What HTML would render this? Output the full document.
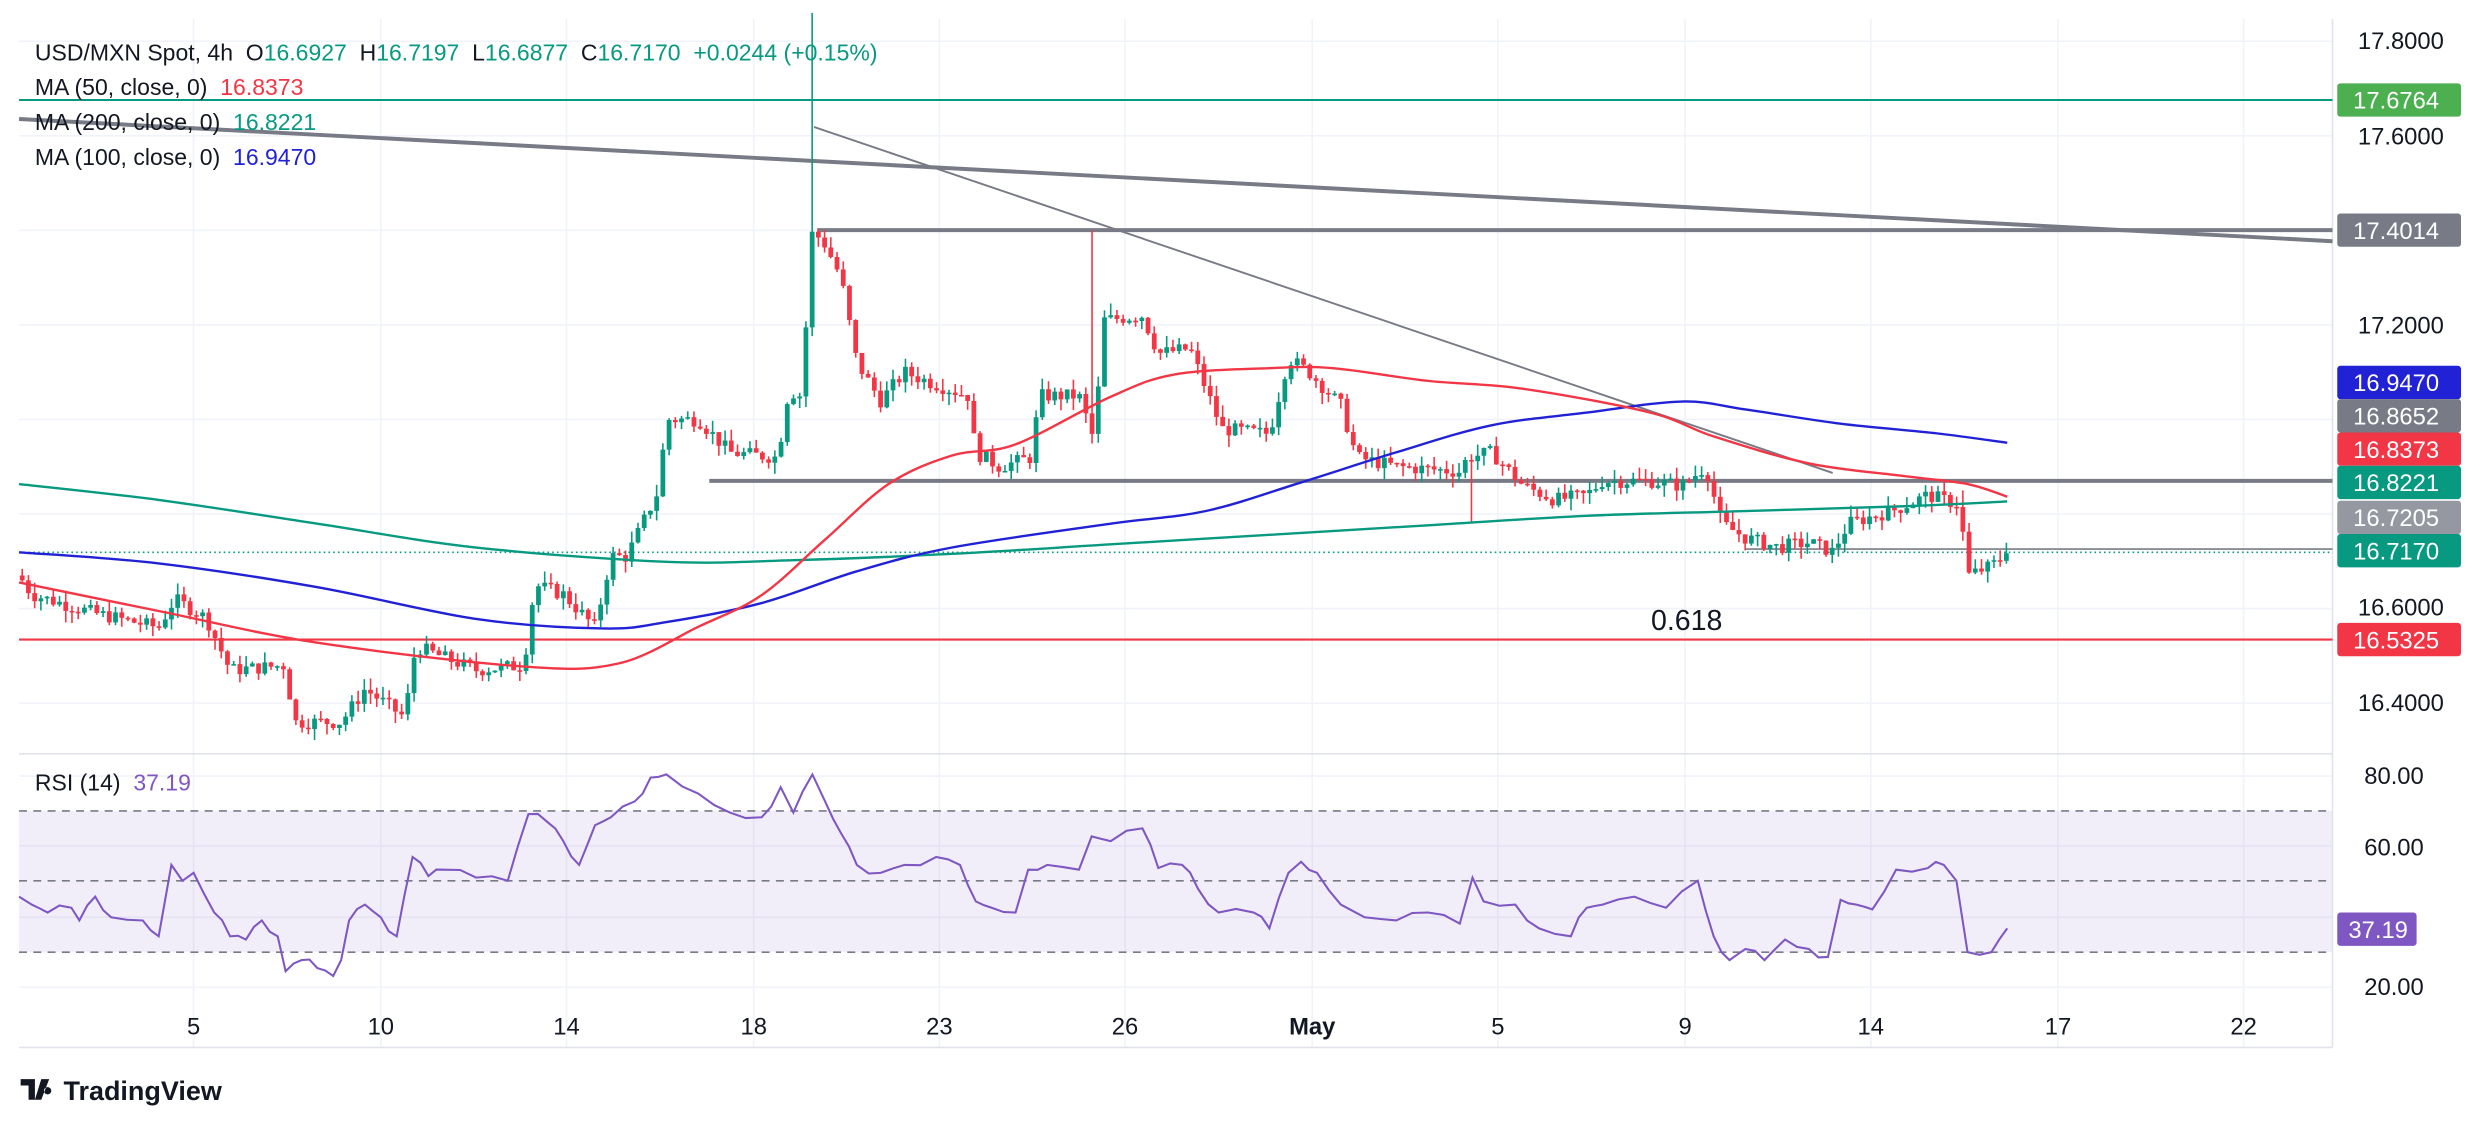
<!DOCTYPE html>
<html><head><meta charset="utf-8"><style>
html,body{margin:0;padding:0;background:#fff;}
svg{display:block;font-family:"Liberation Sans",sans-serif;}
</style></head><body>
<svg id="s" width="2488" height="1122" viewBox="0 0 1568 707" preserveAspectRatio="none" xmlns="http://www.w3.org/2000/svg">
<rect width="1568" height="707" fill="#fff"/>
<g id="grid" stroke="#f0f3fa" stroke-width="1"></g>
<rect x="12" y="511" width="1458" height="89" fill="#7e57c2" fill-opacity="0.1"/>
<g stroke="#787b86" stroke-dasharray="5,4" stroke-width="1">
<line x1="12" y1="511" x2="1470" y2="511"/><line x1="12" y1="555" x2="1470" y2="555"/><line x1="12" y1="600" x2="1470" y2="600"/></g>
<line x1="12" y1="475" x2="1470" y2="475" stroke="#e0e3eb"/>
<line x1="12" y1="660" x2="1470" y2="660" stroke="#e0e3eb"/>
<line x1="1470" y1="12" x2="1470" y2="660" stroke="#e0e3eb"/>
<line x1="12" y1="63" x2="1470" y2="63" stroke="#089981" stroke-width="1.3"/>
<line x1="12" y1="403" x2="1470" y2="403" stroke="#f23645" stroke-width="1.3"/>
<line x1="12" y1="348" x2="1470" y2="348" stroke="#089981" stroke-dasharray="1,2"/>
<line x1="1100" y1="346" x2="1470" y2="346" stroke="#787b86"/>
<line x1="12" y1="75" x2="1470" y2="152" stroke="#787b86" stroke-width="2.5"/>
<line x1="515" y1="145" x2="1470" y2="145" stroke="#787b86" stroke-width="2.5"/>
<line x1="447" y1="303" x2="1470" y2="303" stroke="#787b86" stroke-width="2.5"/>
<line x1="513" y1="80" x2="1155" y2="298" stroke="#787b86" stroke-width="1.2"/>
<g id="candles"></g>
<g id="mas" fill="none" stroke-width="1.5"></g>
<path id="rsi" fill="none" stroke="#7e57c2" stroke-width="1.3"/>
<text x="1063" y="397" font-size="18" fill="#131722" text-anchor="middle">0.618</text>
<text x="22" y="38" font-size="14.5" fill="#131722" xml:space="preserve">USD/MXN Spot, 4h  O<tspan fill="#089981">16.6927</tspan>  H<tspan fill="#089981">16.7197</tspan>  L<tspan fill="#089981">16.6877</tspan>  C<tspan fill="#089981">16.7170</tspan>  <tspan fill="#089981">+0.0244 (+0.15%)</tspan></text>
<text x="22" y="60" font-size="14.5" fill="#131722" xml:space="preserve">MA (50, close, 0)  <tspan fill="#f23645">16.8373</tspan></text>
<text x="22" y="82" font-size="14.5" fill="#131722" xml:space="preserve">MA (200, close, 0)  <tspan fill="#089981">16.8221</tspan></text>
<text x="22" y="104" font-size="14.5" fill="#131722" xml:space="preserve">MA (100, close, 0)  <tspan fill="#2121d6">16.9470</tspan></text>
<text x="22" y="498" font-size="14.5" fill="#131722" xml:space="preserve">RSI (14)  <tspan fill="#7e57c2">37.19</tspan></text>
<g font-size="15" fill="#131722">
<text x="1486" y="31">17.8000</text><text x="1486" y="91">17.6000</text><text x="1486" y="210">17.2000</text>
<text x="1486" y="388">16.6000</text><text x="1486" y="448">16.4000</text>
<text x="1490" y="494">80.00</text><text x="1490" y="539">60.00</text><text x="1490" y="627">20.00</text>
</g>
<g id="labels" font-size="15" fill="#fff"></g>
<g font-size="15" fill="#131722" text-anchor="middle">
<text x="122" y="652">5</text><text x="240" y="652">10</text><text x="357" y="652">14</text><text x="475" y="652">18</text>
<text x="592" y="652">23</text><text x="709" y="652">26</text><text x="827" y="652" font-weight="bold">May</text><text x="944" y="652">5</text>
<text x="1062" y="652">9</text><text x="1179" y="652">14</text><text x="1297" y="652">17</text><text x="1414" y="652">22</text>
</g>
<path d="M13 680h9v13h-4v-9h-5z M26 680l5 0 -5 13h-4z M30 685a2.3 2.3 0 1 0 0.01 0z" fill="#131722"/>
<text x="40" y="693" font-size="17" font-weight="bold" fill="#131722">TradingView</text>
</svg>
<script>
const NS="http://www.w3.org/2000/svg";
function el(p,t,a){const e=document.createElementNS(NS,t);for(const k in a)e.setAttribute(k,a[k]);p.appendChild(e);return e;}
const Y=p=>26+(17.8-p)*297.9;
const g=document.getElementById('grid');
[122,240,357,475,592,709,827,944,1062,1179,1297,1414].forEach(x=>el(g,'line',{x1:x,y1:12,x2:x,y2:660}));
[17.8,17.6,17.4,17.2,17.0,16.8,16.6,16.4].forEach(p=>el(g,'line',{x1:12,y1:Y(p),x2:1470,y2:Y(p)}));
[489,533,578,622].forEach(y=>el(g,'line',{x1:12,y1:y,x2:1470,y2:y}));
const kp=[[12,16.67],[20,16.63],[60,16.59],[100,16.56],[110,16.62],[130,16.58],[145,16.47],[180,16.48],[185,16.36],[215,16.36],[230,16.43],[255,16.37],[262,16.52],[300,16.47],[330,16.48],[337,16.65],[355,16.63],[375,16.56],[385,16.71],[395,16.71],[415,16.85],[420,17.0],[440,17.0],[460,16.93],[490,16.92],[497,17.06],[505,17.05],[512,17.40],[520,17.37],[530,17.30],[540,17.12],[555,17.04],[570,17.10],[585,17.08],[610,17.05],[615,16.93],[630,16.90],[650,16.92],[655,17.05],[680,17.05],[690,16.95],[695,17.21],[720,17.22],[730,17.14],[750,17.15],[770,16.98],[800,16.97],[812,17.13],[825,17.10],[845,17.03],[855,16.92],[880,16.90],[920,16.89],[925,16.92],[940,16.93],[960,16.86],[980,16.83],[1000,16.84],[1010,16.87],[1040,16.87],[1060,16.86],[1075,16.90],[1085,16.78],[1100,16.75],[1120,16.73],[1140,16.74],[1155,16.72],[1165,16.78],[1195,16.81],[1215,16.84],[1235,16.82],[1240,16.67],[1255,16.69],[1265,16.717]];
function interp(x){for(let i=1;i<kp.length;i++){if(x<=kp[i][0]){const a=kp[i-1],b=kp[i];return a[1]+(b[1]-a[1])*(x-a[0])/(b[0]-a[0]);}}return kp[kp.length-1][1];}
let seed=7;const rnd=()=>{seed=(seed*9301+49297)%233280;return seed/233280;};
const cg=document.getElementById('candles');
let prev=interp(12);
for(let x=14;x<=1266;x+=3.92){
 let c=interp(x)+(rnd()-0.5)*0.03; if(x>1262)c=16.717;
 let o=prev; let hi=Math.max(o,c)+rnd()*0.025, lo=Math.min(o,c)-rnd()*0.025;
 if(Math.abs(x-513)<2){hi=17.86;}
 if(Math.abs(x-689)<2){hi=17.40;}
 if(Math.abs(x-926)<2){lo=16.78;}
 if(Math.abs(x-1238)<2){hi=16.85;}
 const col=c>=o?'#089981':'#f23645';
 el(cg,'line',{x1:x,y1:Y(hi),x2:x,y2:Y(lo),stroke:col,'stroke-width':1});
 const t=Y(Math.max(o,c)),b=Y(Math.min(o,c));
 el(cg,'rect',{x:x-1.5,y:t,width:3,height:Math.max(1,b-t),fill:col});
 prev=c;
}
function smooth(p){let d='M'+p[0].join(',');for(let i=0;i<p.length-1;i++){const p0=p[i-1]||p[i],p1=p[i],p2=p[i+1],p3=p[i+2]||p2;
 d+=` C${p1[0]+(p2[0]-p0[0])/6},${p1[1]+(p2[1]-p0[1])/6} ${p2[0]-(p3[0]-p1[0])/6},${p2[1]-(p3[1]-p1[1])/6} ${p2[0]},${p2[1]}`;}return d;}
const m=document.getElementById('mas');
const red=[[12,367],[100,385],[200,405],[330,420],[390,418],[440,395],[480,375],[520,340],[560,305],[600,287],[640,280],[700,250],[740,236],[800,232],[840,232],[900,240],[960,245],[1040,260],[1080,275],[1140,292],[1200,300],[1240,305],[1265,313]];
const blue=[[12,348],[100,355],[200,370],[300,390],[380,396],[420,392],[480,380],[540,360],[600,345],[700,330],[760,322],[820,304],[880,285],[940,268],[1000,260],[1060,253],[1100,258],[1160,267],[1220,273],[1265,279]];
const grn=[[12,305],[100,315],[200,330],[300,345],[420,354],[500,353],[600,349],[700,343],[800,337],[900,331],[1000,325],[1100,322],[1200,319],[1265,316]];
[[grn,'#089981'],[blue,'#2121d6'],[red,'#f23645']].forEach(([p,c])=>el(m,'path',{d:smooth(p),stroke:c}));
const r=[[12,565],[20,570],[30,575],[45,572],[50,580],[60,565],[70,578],[90,580],[100,590],[108,545],[115,555],[122,550],[135,575],[145,590],[155,592],[165,580],[175,590],[180,612],[190,605],[200,610],[210,615],[215,605],[220,580],[230,570],[240,578],[250,590],[260,540],[270,552],[280,548],[300,553],[320,555],[333,513],[345,518],[355,530],[365,545],[375,520],[385,515],[400,505],[410,490],[420,488],[440,500],[460,512],[480,515],[492,496],[500,512],[512,488],[520,505],[530,525],[540,545],[555,550],[570,545],[590,540],[605,545],[615,568],[625,572],[640,575],[648,548],[660,545],[680,548],[688,527],[700,530],[720,522],[730,547],[745,545],[755,560],[768,575],[790,575],[800,585],[812,550],[820,543],[830,550],[845,570],[860,578],[880,580],[900,575],[920,582],[928,553],[935,568],[955,570],[970,585],[990,590],[1000,572],[1010,570],[1030,565],[1050,572],[1070,555],[1080,590],[1090,605],[1100,598],[1112,605],[1125,592],[1140,598],[1152,603],[1160,567],[1170,570],[1180,573],[1195,548],[1215,547],[1225,545],[1233,555],[1240,600],[1255,600],[1265,585]];
// add jitter points for texture
let rp=[];for(let i=0;i<r.length-1;i++){rp.push(r[i]);const a=r[i],b=r[i+1];if(b[0]-a[0]>8){const mx=(a[0]+b[0])/2;rp.push([mx,(a[1]+b[1])/2+(rnd()-0.5)*6]);}}rp.push(r[r.length-1]);
document.getElementById('rsi').setAttribute('d','M'+rp.map(q=>q.join(',')).join(' L'));
const L=document.getElementById('labels');
[[63,'17.6764','#4caf50'],[145,'17.4014','#787b86'],[241,'16.9470','#2121d6'],[262,'16.8652','#787b86'],[283,'16.8373','#f23645'],[304,'16.8221','#089981'],[326,'16.7205','#9598a1'],[347,'16.7170','#089981'],[403,'16.5325','#f23645']].forEach(([y,t,c])=>{
 el(L,'rect',{x:1473,y:y-10.5,width:78,height:21,fill:c,rx:2});
 const tx=el(L,'text',{x:1483,y:y+5.5});tx.textContent=t;});
el(L,'rect',{x:1473,y:575,width:50,height:21,fill:'#7e57c2',rx:2});
const rt=el(L,'text',{x:1480,y:591});rt.textContent='37.19';
</script>
</body></html>
